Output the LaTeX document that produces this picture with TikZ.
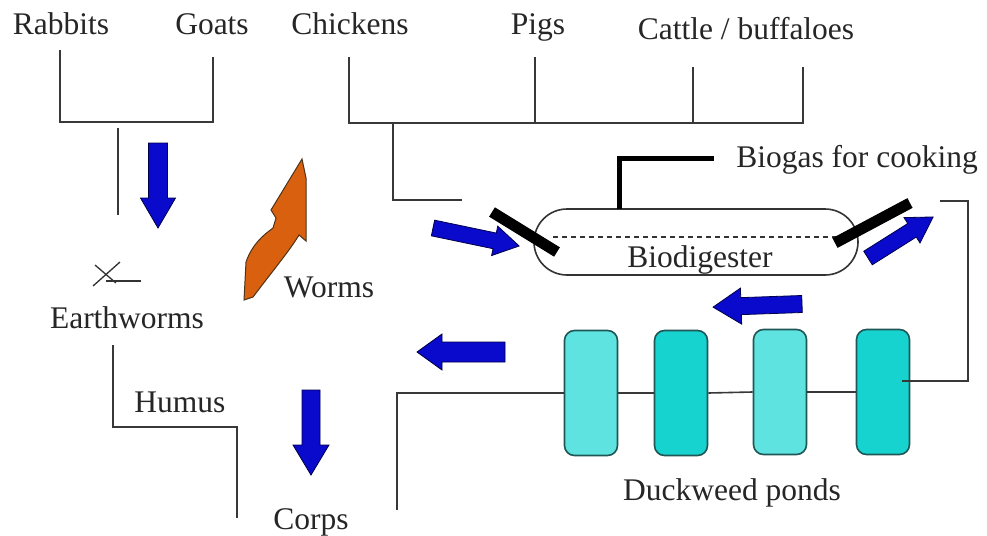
\documentclass[tikz,border=0pt]{standalone}
\usepackage{fontspec}
\setmainfont{Liberation Serif}
\definecolor{wormc}{HTML}{D9600F}
\definecolor{arrblue}{HTML}{0A0ACC}
\definecolor{pondA}{HTML}{5EE3E0}
\definecolor{pondB}{HTML}{16D3CF}
\definecolor{pondedge}{HTML}{1F5656}
\newcommand\blkarrow[7]{%
  \begin{scope}[shift={(#1,#2)},rotate=#3]
    \filldraw[barr] (0,-#5) -- ({#4-#7},-#5) -- ({#4-#7},-#6) -- (#4,0) -- ({#4-#7},#6) -- ({#4-#7},#5) -- (0,#5) -- cycle;
  \end{scope}}
\begin{document}
\begin{tikzpicture}[x=1pt,y=-1pt]
\tikzset{
  lbl/.style={font=\fontsize{31.5}{36}\selectfont, text=black!85, inner sep=0pt, anchor=base},
  ln/.style={draw=black!78, line width=1.6pt},
  pipe/.style={draw=black, line width=5pt},
  bar/.style={draw=black, line width=11pt},
  barr/.style={fill=arrblue, draw=blue!30!black, line width=0.8pt},
  pond/.style={draw=pondedge, line width=1.6pt, rounded corners=10pt, minimum width=53pt, minimum height=125pt, inner sep=0pt},
  wormarrow/.style={fill=wormc, draw=black!60!brown, line width=1pt},
}
\useasboundingbox (0,0) rectangle (987,535);
\fill[white] (0,0) rectangle (987,535);

% labels
\node[lbl] (rabbits) at (61,35) {Rabbits};
\node[lbl] (goats) at (212,35) {Goats};
\node[lbl] (chickens) at (350,35) {Chickens};
\node[lbl] (pigs) at (538,35) {Pigs};
\node[lbl] (cattle) at (746,40) {Cattle / buffaloes};
\node[lbl] (biogas) at (857,167) {Biogas for cooking};
\node[lbl] (earthworms) at (127,328) {Earthworms};
\node[lbl] (worms) at (329,297) {Worms};
\node[lbl] (humus) at (180,412) {Humus};
\node[lbl] (corps) at (311,529) {Corps};
\node[lbl] (duckweed) at (732,500) {Duckweed ponds};

% brackets
\draw[ln] (60,50) -- (60,122) -- (213,122) -- (213,57);
\draw[ln] (118,128) -- (118,215);
\draw[ln] (349,57) -- (349,123) -- (803,123) -- (803,67);
\draw[ln] (535,57) -- (535,123);
\draw[ln] (693,67) -- (693,123);
\draw[ln] (393,123) -- (393,200) -- (462,200);

% biodigester
\node[draw=black!80, line width=1.6pt, minimum width=324pt, minimum height=66pt, rounded corners=33pt, inner sep=0pt] (digester) at (696,242) {};
\node[lbl] (biolabel) at (700,267) {Biodigester};
\draw[black!80, line width=1.6pt, dash pattern=on 5pt off 4pt] (553,237) -- (838,237);
\draw[pipe] (619,209) -- (619,158) -- (714,158);
\draw[bar] (492,212) -- (557,252);
\draw[bar] (835,243) -- (910,203);

% ponds
\node[pond, fill=pondA] (p1) at (591,393) {};
\node[pond, fill=pondB] (p2) at (681,393) {};
\node[pond, fill=pondA] (p3) at (780,392) {};
\node[pond, fill=pondB] (p4) at (883,392) {};
\draw[ln] (p1.east) -- (p2.west);
\draw[ln] (p2.east) -- (p3.west);
\draw[ln] (p3.east) -- (p4.west);
\draw[ln] (p1.west) -- (397,393) -- (397,510);
\draw[ln] (940,201) -- (968,201) -- (968,381) -- (902,381);

% earthworm line
\draw[ln] (113,345) -- (113,427) -- (237,427) -- (237,518);

% earthworm scribble
\draw[black!80, line width=1.3pt] (95,265) -- (116,283);
\draw[black!80, line width=1.3pt] (93,286) -- (120,262);
\draw[black!80, line width=1.3pt] (106,281) -- (141,281);

% blue arrows
\blkarrow{158}{143}{-90}{85}{9.5}{17.5}{30}
\blkarrow{311}{390}{-90}{85}{9}{18}{30}
\blkarrow{433}{228}{-11.8}{88}{8}{15}{25}
\blkarrow{868}{258}{32.2}{77}{8}{15}{25}
\blkarrow{802}{304}{182}{89}{8.5}{18}{28}
\blkarrow{505}{352}{180}{88}{10}{18}{25}

% orange worm arrow
\filldraw[wormarrow] (244,300) -- (246,262) .. controls (252,245) and (262,236) .. (273,228) -- (276,218) -- (271,210) -- (302,159) -- (306,178) -- (306,241) -- (299,235) .. controls (290,250) and (275,268) .. (253,297) -- cycle;
\end{tikzpicture}
\end{document}
